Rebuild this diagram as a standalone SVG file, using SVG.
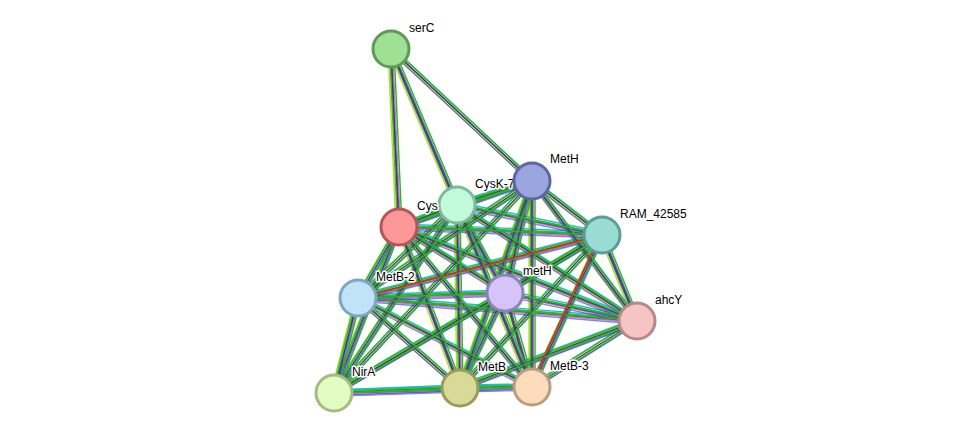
<svg xmlns="http://www.w3.org/2000/svg" xmlns:xlink="http://www.w3.org/1999/xlink" width="975" height="439" viewBox="0 0 975 439">
<style>
.n{stroke-width:3}
text{font-family:"Liberation Sans",Arial,sans-serif;font-size:12px;fill:#000;stroke:#fff;stroke-width:3;paint-order:stroke;stroke-linejoin:round}
#E line{stroke-width:1.4}
</style>
<defs>
<g id="E" fill="none">
<line x1="391" y1="49" x2="399" y2="227"/><line x1="391" y1="49" x2="457" y2="205"/><line x1="391" y1="49" x2="532" y2="181"/>
<line x1="399" y1="227" x2="457" y2="205"/><line x1="399" y1="227" x2="532" y2="181"/><line x1="399" y1="227" x2="602" y2="235"/><line x1="399" y1="227" x2="505" y2="293"/><line x1="399" y1="227" x2="358" y2="298"/><line x1="399" y1="227" x2="637" y2="321"/><line x1="399" y1="227" x2="334" y2="393"/><line x1="399" y1="227" x2="460" y2="388"/><line x1="399" y1="227" x2="532" y2="387"/>
<line x1="457" y1="205" x2="532" y2="181"/><line x1="457" y1="205" x2="602" y2="235"/><line x1="457" y1="205" x2="505" y2="293"/><line x1="457" y1="205" x2="358" y2="298"/><line x1="457" y1="205" x2="637" y2="321"/><line x1="457" y1="205" x2="334" y2="393"/><line x1="457" y1="205" x2="460" y2="388"/><line x1="457" y1="205" x2="532" y2="387"/>
<line x1="532" y1="181" x2="602" y2="235"/><line x1="532" y1="181" x2="505" y2="293"/><line x1="532" y1="181" x2="358" y2="298"/><line x1="532" y1="181" x2="637" y2="321"/><line x1="532" y1="181" x2="334" y2="393"/><line x1="532" y1="181" x2="460" y2="388"/><line x1="532" y1="181" x2="532" y2="387"/>
<line x1="602" y1="235" x2="505" y2="293"/><line x1="602" y1="235" x2="358" y2="298"/><line x1="602" y1="235" x2="637" y2="321"/><line x1="602" y1="235" x2="334" y2="393"/><line x1="602" y1="235" x2="460" y2="388"/><line x1="602" y1="235" x2="532" y2="387"/>
<line x1="505" y1="293" x2="358" y2="298"/><line x1="505" y1="293" x2="637" y2="321"/><line x1="505" y1="293" x2="334" y2="393"/><line x1="505" y1="293" x2="460" y2="388"/><line x1="505" y1="293" x2="532" y2="387"/>
<line x1="358" y1="298" x2="637" y2="321"/><line x1="358" y1="298" x2="334" y2="393"/><line x1="358" y1="298" x2="460" y2="388"/><line x1="358" y1="298" x2="532" y2="387"/>
<line x1="637" y1="321" x2="460" y2="388"/><line x1="637" y1="321" x2="532" y2="387"/>
<line x1="334" y1="393" x2="460" y2="388"/><line x1="334" y1="393" x2="532" y2="387"/>
<line x1="460" y1="388" x2="532" y2="387"/>
</g>
</defs>
<rect width="975" height="439" fill="#fff"/>
<g id="connectors">
<use xlink:href="#E" stroke="#b8d822" transform="translate(-3,0)"/>
<use xlink:href="#E" stroke="#22b8e0" transform="translate(0,-3)"/>
<use xlink:href="#E" stroke="#33bb33" transform="translate(-1.5,-1.5)"/>
<use xlink:href="#E" stroke="#d022d0" transform="translate(1.5,1.5)" opacity="0.7"/>
<use xlink:href="#E" stroke="#2233dd" transform="translate(0,3)" opacity="0.6"/>
<use xlink:href="#E" stroke="#444444" transform="translate(0,0)"/>
<use xlink:href="#E" stroke="#22bb22" transform="translate(3,0)"/>
<line x1="358" y1="298" x2="602" y2="235" stroke="#e82020" stroke-width="1.4"/>
<line x1="602" y1="235" x2="532" y2="387" stroke="#e82020" stroke-width="1.4" transform="translate(-2,0)"/>
</g>
<g id="serC"><circle class="n" cx="391" cy="49" r="18" fill="#a0e094" stroke="#5f9a55"/><text x="409" y="32">serC</text></g>
<g id="CysK-7"><circle class="n" cx="457" cy="205" r="18" fill="#c2fadc" stroke="#7fb89a"/><text x="475" y="188">CysK-7</text></g>
<g id="Cys"><circle class="n" cx="399" cy="227" r="18" fill="#fc9898" stroke="#b55555"/><text x="417" y="210">Cys</text></g>
<g id="MetH"><circle class="n" cx="532" cy="181" r="18" fill="#9ba5e0" stroke="#5c67a5"/><text x="550" y="163">MetH</text></g>
<g id="RAM_42585"><circle class="n" cx="602" cy="235" r="18" fill="#98dcd4" stroke="#5a9e96"/><text x="620" y="218">RAM_42585</text></g>
<g id="metH"><circle class="n" cx="505" cy="293" r="18" fill="#d4c4fa" stroke="#9080b8"/><text x="523" y="275">metH</text></g>
<g id="MetB-2"><circle class="n" cx="358" cy="298" r="18" fill="#bfe4fa" stroke="#7ea6bf"/><text x="376" y="281">MetB-2</text></g>
<g id="ahcY"><circle class="n" cx="637" cy="321" r="18" fill="#f6c4c4" stroke="#b88888"/><text x="655" y="304">ahcY</text></g>
<g id="NirA"><circle class="n" cx="334" cy="393" r="18" fill="#e2fcc4" stroke="#a2bc84"/><text x="352" y="376">NirA</text></g>
<g id="MetB"><circle class="n" cx="460" cy="388" r="18" fill="#dada98" stroke="#9a9a5a"/><text x="478" y="371">MetB</text></g>
<g id="MetB-3"><circle class="n" cx="532" cy="387" r="18" fill="#fcdcbc" stroke="#bb9c80"/><text x="550" y="370">MetB-3</text></g>
</svg>
